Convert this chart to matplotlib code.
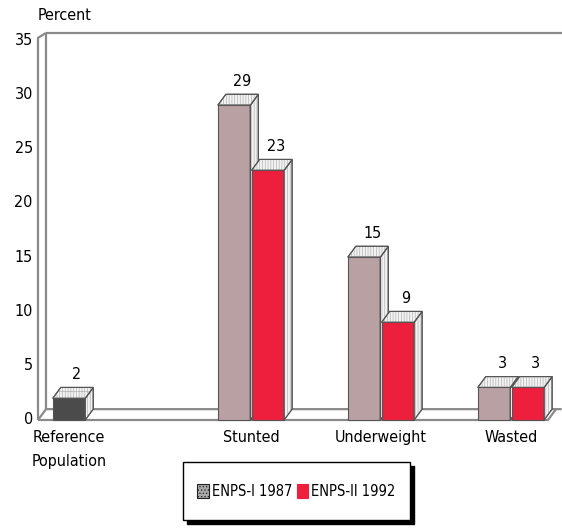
import matplotlib
matplotlib.use("Agg")
import matplotlib.pyplot as plt
from matplotlib.patches import Polygon, Rectangle, Patch
from matplotlib.lines import Line2D

plt.rcParams['font.family'] = ['DejaVu Sans']
plt.rcParams['font.stretch'] = 'condensed'
plt.rcParams['hatch.linewidth'] = 0.5

# ---- data ----
categories = ["Reference\nPopulation", "Stunted", "Underweight", "Wasted"]
reference_value = [2]
enps1_1987 = [29, 15, 3]          # Stunted, Underweight, Wasted
enps2_1992 = [23, 9, 3]
series_labels = ["ENPS-I 1987", "ENPS-II 1992"]
y_ticks = [0, 5, 10, 15, 20, 25, 30, 35]
y_label = "Percent"

# ---- layout ----
W, H = 562, 529
fig = plt.figure(figsize=(W / 100, H / 100), dpi=100)
ax = fig.add_axes([38 / W, 1 - 420 / H, (548 - 38) / W, (420 - 40) / H])
group_x = [0.0, 1.4, 2.4, 3.4]
xl, xr = -0.2385, 3.685
ax.set_xlim(xl, xr)
ax.set_ylim(0, 35)
ax.axis('off')

dx, dy = 0.0615, 1.0
bw = 0.25
c_ref = '#4b4b4b'
c_87 = '#b9a0a3'
c_92 = '#ee1f3d'
edge = '#555555'
wall = '#8a8a8a'
fs = 11.5

# walls / floor
kw = dict(color=wall, lw=1.6, clip_on=False, solid_capstyle='butt')
ax.add_line(Line2D([xl, xl, xl + dx], [0, 35.2, 35.65], **kw))
ax.add_line(Line2D([xl + dx, xl + dx], [dy, 35.65], **kw))
ax.add_line(Line2D([xl + dx, 3.79], [35.65, 35.65], **kw))
ax.add_line(Line2D([xl, xr, xr + dx], [0, 0, dy], **kw))
ax.add_line(Line2D([xl, xl + dx, 3.79], [0, dy, dy], **kw))


def bar3d(x0, v, color):
    x1 = x0 + bw
    ax.bar(x0, v, width=bw, align='edge', color=color, edgecolor=edge,
           linewidth=0.8, zorder=3, clip_on=False)
    top = [(x0, v), (x1, v), (x1 + dx, v + dy), (x0 + dx, v + dy)]
    side = [(x1, 0), (x1 + dx, dy), (x1 + dx, v + dy), (x1, v)]
    for pts, h in ((side, '||||||'), (top, '|||||+')):
        ax.add_patch(Polygon(pts, closed=True, facecolor='#f2f2f2',
                             edgecolor=edge, lw=0.8, zorder=3, clip_on=False))
        ax.add_patch(Polygon(pts, closed=True, facecolor='none', hatch=h,
                             edgecolor='#b5b5b5', lw=0, zorder=3, clip_on=False))
        ax.add_patch(Polygon(pts, closed=True, facecolor='none',
                             edgecolor=edge, lw=0.8, zorder=3, clip_on=False))
    ax.annotate(f"{v:g}", (x0 + bw / 2 + dx, v + dy), xytext=(0, 4),
                textcoords='offset points', ha='center', va='bottom',
                fontsize=fs, zorder=5)


bar3d(group_x[0] - bw / 2, reference_value[0], c_ref)
for g, a, b in zip(group_x[1:], enps1_1987, enps2_1992):
    bar3d(g - 0.005 - bw, a, c_87)
    bar3d(g + 0.005, b, c_92)

# y tick labels
for t in y_ticks:
    ax.text(xl - 0.04, t, str(t), ha='right', va='center', fontsize=fs,
            clip_on=False)
fig.text(38 / W, 1 - 16 / H, y_label, ha='left', va='center', fontsize=fs)

# category labels
for g, c in zip(group_x, categories):
    ax.annotate(c, (g, 0), xytext=(0, -7), textcoords='offset points',
                ha='center', va='top', fontsize=fs, linespacing=1.75)

# legend frame with shadow
lx0, ly0, lw_, lh_ = 183 / W, 1 - 520 / H, (410 - 183) / W, (520 - 462) / H
fig.patches.append(Rectangle((lx0 + 4 / W, ly0 - 4 / H), lw_, lh_,
                             transform=fig.transFigure, facecolor='black',
                             edgecolor='black', zorder=0))
fig.patches.append(Rectangle((lx0, ly0), lw_, lh_, transform=fig.transFigure,
                             facecolor='white', edgecolor='black', lw=1.0,
                             zorder=1))
handles = [Patch(facecolor='#a8a8a8', edgecolor='#222222', hatch='.....',
                 lw=0.8),
           Patch(facecolor=c_92, edgecolor=c_92, lw=0.8)]
fig.legend(handles, series_labels, loc='center',
           bbox_to_anchor=(lx0 + lw_ / 2, ly0 + lh_ / 2), ncol=2,
           frameon=False, fontsize=10.5, handlelength=0.8, handleheight=1.1,
           handletextpad=0.2, columnspacing=0.3)

fig.savefig("out.png", dpi=100)
